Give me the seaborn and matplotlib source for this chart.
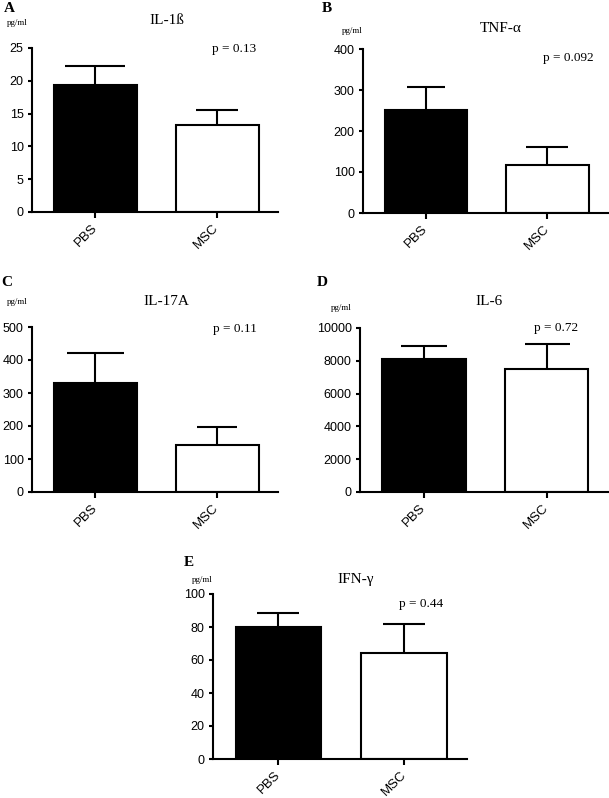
import matplotlib
matplotlib.use("Agg")
import matplotlib.pyplot as plt
import numpy as np
import pandas as pd
import seaborn as sns

# values (mean and SEM, pg/ml)
groups = ["PBS", "MSC"]
panels = ["A", "B", "C", "D", "E"]
cytokines = ["IL-1ß", "TNF-α", "IL-17A", "IL-6", "IFN-γ"]
pbs_mean = [19.3, 251, 330, 8100, 80]
pbs_sem = [2.9, 57, 90, 820, 8.7]
msc_mean = [13.3, 118, 142, 7480, 64]
msc_sem = [2.3, 42, 56, 1520, 18]
p_values = ["0.13", "0.092", "0.11", "0.72", "0.44"]
y_max = [25, 400, 500, 10000, 100]
y_step = [5, 100, 100, 2000, 20]

W, H = 609, 798

# axes boxes in pixels: left, top, right, bottom
boxes = [(32, 48, 278, 212), (363, 49, 608, 213), (32, 327, 278, 492),
         (360, 328, 608, 492), (213, 594, 467, 759)]
# text anchors in pixels: letter, unit, title, p value
letter_xy = [(9, 9), (327, 8), (7, 283), (322, 283), (189, 563)]
unit_xy = [(17, 23), (352, 31), (17, 302), (341, 308), (202, 580)]
title_xy = [(167, 21), (501, 29), (166, 301), (489, 301), (356, 579)]
pval_xy = [(234, 49), (568, 58), (235, 329), (556, 328), (421, 604)]
cap_px = [(60, 43), (38, 42), (57, 40), (46, 45), (43, 43)]

sns.set_style("ticks", {"axes.edgecolor": "black", "xtick.color": "black",
                        "ytick.color": "black", "text.color": "black"})
plt.rcParams["font.family"] = ["Liberation Sans", "DejaVu Sans"]
serif = ["Liberation Serif", "DejaVu Serif"]


def fx(x):
    return x / W


def fy(y):
    return 1 - y / H


fig = plt.figure(figsize=(W / 100, H / 100), dpi=100)

for i in range(5):
    l, t, r, b = boxes[i]
    ax = fig.add_axes([fx(l), fy(b), (r - l) / W, (b - t) / H])
    df = pd.DataFrame({"group": groups, "value": [pbs_mean[i], msc_mean[i]]})
    sns.barplot(data=df, x="group", y="value", hue="group",
                palette=["black", "white"], edgecolor="black", linewidth=1.5,
                width=0.68, legend=False, errorbar=None, ax=ax, zorder=2)
    errs = [pbs_sem[i], msc_sem[i]]
    for j in range(2):
        # upper-only SEM bar; cap size in points is half the cap length
        _, caps, _ = ax.errorbar(j, df["value"][j], yerr=[[0], [errs[j]]],
                                 fmt="none", ecolor="black", elinewidth=1.5,
                                 capthick=1.5, capsize=cap_px[i][j] * 0.72 / 2,
                                 zorder=1)
        caps[0].set_visible(False)

    ax.set_xlim(-0.52, 1.5)
    ax.set_ylim(0, y_max[i])
    ax.set_yticks(np.arange(0, y_max[i] + y_step[i], y_step[i]))
    ax.set_xlabel(None)
    ax.set_ylabel(None)
    sns.despine(ax=ax)
    for s in ["left", "bottom"]:
        ax.spines[s].set_linewidth(1.5)
    ax.tick_params(axis="y", length=3, width=1.5, labelsize=9, pad=3,
                   colors="black")
    ax.tick_params(axis="x", length=4, width=1.5, labelsize=9.5, pad=6,
                   colors="black")
    plt.setp(ax.get_xticklabels(), rotation=45, ha="right", va="center",
             rotation_mode="anchor")

    fig.text(fx(letter_xy[i][0]), fy(letter_xy[i][1]), panels[i],
             family=serif, fontsize=11, fontweight="bold",
             ha="center", va="center")
    fig.text(fx(unit_xy[i][0]), fy(unit_xy[i][1]), "pg/ml",
             family=serif, fontsize=6.5, ha="center", va="center")
    fig.text(fx(title_xy[i][0]), fy(title_xy[i][1]), cytokines[i],
             family=serif, fontsize=11, ha="center", va="center")
    fig.text(fx(pval_xy[i][0]), fy(pval_xy[i][1]), f"p = {p_values[i]}",
             family=serif, fontsize=9.5, ha="center", va="center")

fig.savefig("out.png", dpi=100)
